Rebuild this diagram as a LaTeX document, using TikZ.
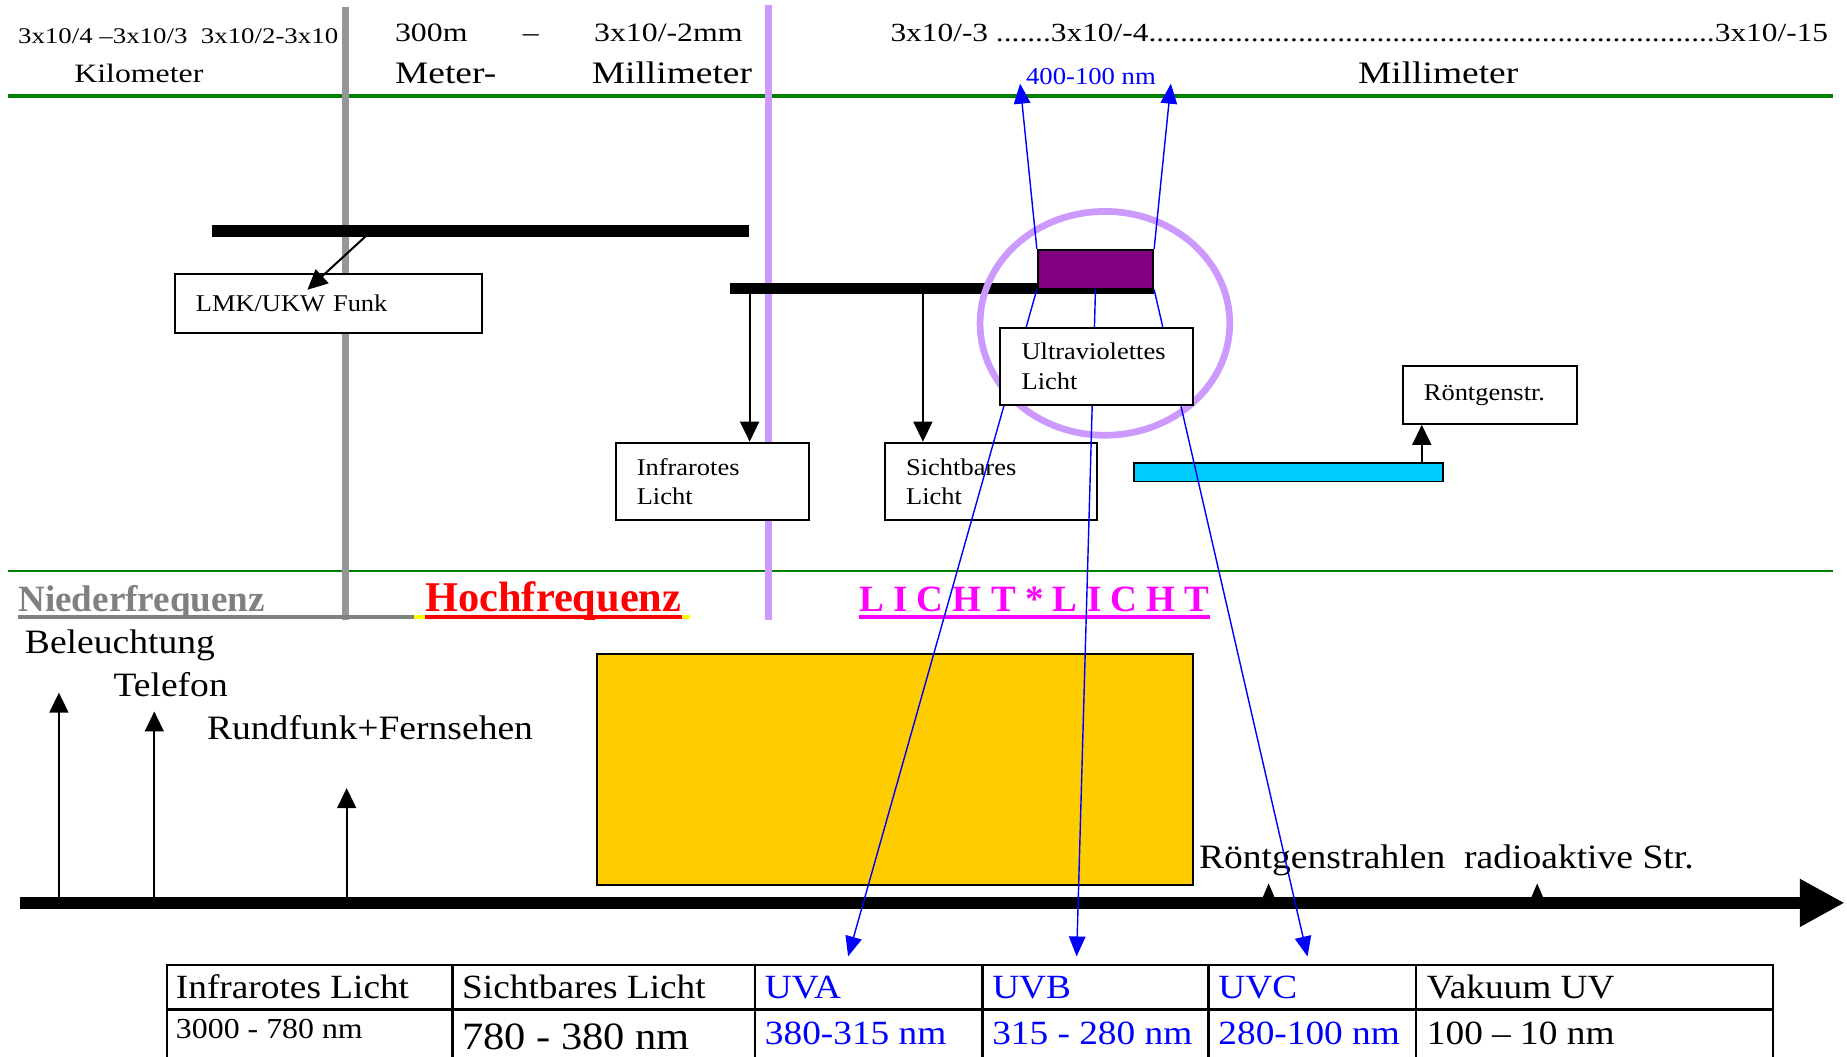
\documentclass[tikz,border=0pt]{standalone}
\usepackage{fontspec}
\setmainfont{Liberation Serif}[FakeStretch=1.1]
\newfontfamily\wideserif{Liberation Serif}[FakeStretch=1.2]
\newfontfamily\plainserif{Liberation Serif}
\usetikzlibrary{arrows.meta, shapes.geometric, positioning}

\definecolor{rulegreen}{RGB}{0,128,0}
\definecolor{rulegray}{RGB}{150,150,150}
\definecolor{textgray}{RGB}{128,128,128}
\definecolor{lilac}{RGB}{204,153,255}
\definecolor{uvpurple}{RGB}{128,0,128}
\definecolor{xcyan}{RGB}{0,204,255}
\definecolor{hfgold}{RGB}{255,204,0}
\definecolor{lichtpink}{RGB}{255,0,255}
\definecolor{uvblue}{RGB}{0,0,255}
\definecolor{hfred}{RGB}{255,0,0}
\definecolor{hlyellow}{RGB}{255,255,0}

\tikzset{
  hdr/.style={anchor=base west, inner sep=0pt, font=\wideserif\fontsize{#1}{#1}\selectfont},
  lbl/.style={anchor=base west, inner sep=0pt, font=\fontsize{#1}{#1}\selectfont},
  bandlbl/.style={anchor=base west, inner sep=0pt, font=\plainserif\bfseries\fontsize{#1}{#1}\selectfont},
  lbox/.style={rectangle, draw=black, fill=white, line width=0.8pt, anchor=north west,
               align=left, inner xsep=9pt, inner ysep=0pt, font=\fontsize{10.2}{12.5}\selectfont},
  strip/.style={rectangle, draw=black, line width=0.8pt, inner sep=0pt},
  ring/.style={ellipse, draw=lilac, line width=2.85pt, minimum width=106pt,
               minimum height=95pt, inner sep=0pt},
  arrow/.style={-{Triangle[length=8.5pt, width=8pt]}, line width=0.85pt},
  bluearrow/.style={-{Triangle[length=8.5pt, width=7pt]}, color=uvblue, line width=0.6pt},
  spike/.style={-{Triangle[length=6pt, width=5pt]}, line width=0.3pt},
  bar/.style={line width=5pt},
  vrule/.style={line width=3pt},
  uline/.style={line width=1.7pt},
  tline/.style={line width=1pt},
}

\begin{document}
\begin{tikzpicture}[x=0.5pt, y=-0.5pt]
  \useasboundingbox (0,0) rectangle (1568,897);

  % Rules and range borders
  \draw[rulegreen, line width=1.4pt] (6.5,81.5) -- (1556,81.5);
  \draw[rulegreen, line width=0.7pt] (6.5,484.5) -- (1556,484.5);
  \draw[vrule, rulegray] (293.7,5.7) -- (293.7,526);
  \draw[vrule, lilac] (652.7,4.2) -- (652.7,526);

  % Wavelength bars
  \draw[bar] (180,196) -- (636,196);
  \draw[bar] (620,245) -- (980,245);

  % Header
  \node[hdr=9.5] (kmrange) at (15,36.8) {3x10/4 –3x10/3\ \ 3x10/2-3x10};
  \node[hdr=11.25] (mrange) at (335,35.4) {\hbox to 147.5pt{300m\hfil–\hfil3x10/-2mm}};
  \node[hdr=11.1] (uvrange) at (755.6,35.4) {\hbox to 398pt{3x10/-3 .......3x10/-4\xleaders\hbox{.}\hfill3x10/-15}};
  \node[hdr=11.25] (km) at (62.8,70) {Kilometer};
  \node[hdr=13.25] (meter) at (335,71) {Meter-};
  \node[hdr=13.25] (mm) at (502,71) {Millimeter};
  \node[lbl=10.3, text=uvblue] (nm) at (870.7,72) {400-100 nm};
  \node[hdr=13.25] (mmright) at (1152.5,71) {Millimeter};

  % Radio
  \node[lbox, text width=112.5pt, minimum height=24.8pt] (lmk) at (147.5,232) {LMK/UKW Funk};
  \coordinate (b1foot) at (310,201);
  \coordinate (lmkhit) at (261,246);
  \draw[arrow] (b1foot) -- (lmkhit);

  % Infrared and visible
  \node[lbox, text width=64pt, minimum height=33pt] (infra) at (521.8,375) {Infrarotes\\Licht};
  \node[lbox, text width=72pt, minimum height=33pt] (sicht) at (750.5,375) {Sichtbares\\Licht};
  \coordinate (irfoot) at (636.4,250);
  \coordinate (vsfoot) at (783.5,250);
  \draw[arrow] (irfoot) -- (irfoot |- infra.north);
  \draw[arrow] (vsfoot) -- (vsfoot |- sicht.north);

  % X-rays
  \node[strip, fill=xcyan, anchor=north west, minimum width=131pt, minimum height=8pt] (xbar) at (962,392) {};
  \node[lbox, text width=56pt, minimum height=24.5pt] (roe) at (1190,310) {Röntgenstr.};
  \coordinate (xfoot) at (1207,392);
  \draw[arrow] (xfoot) -- (xfoot |- roe.south);

  % High frequency block
  \node[strip, fill=hfgold, line width=0.9pt, anchor=north west, minimum width=253pt, minimum height=98pt] (hfbox) at (506,554.6) {};

  % Band names
  \node[bandlbl=15.75, text=textgray] (nieder) at (15.2,519) {Niederfrequenz};
  \node[bandlbl=18, text=hfred] (hoch) at (360.7,519) {Hochfrequenz};
  \node[bandlbl=15.75, text=lichtpink] (licht) at (729,519) {L I C H T * L I C H T};
  \draw[uline, textgray] ([yshift=-2.6pt]nieder.base west) -- ([xshift=-4.5pt, yshift=-2.6pt]hoch.base west);
  \draw[uline, hlyellow] ([xshift=-4.5pt, yshift=-2.6pt]hoch.base west) -- ([yshift=-2.6pt]hoch.base west);
  \draw[uline, hfred] ([yshift=-2.6pt]hoch.base west) -- ([yshift=-2.6pt]hoch.base east);
  \draw[uline, hlyellow] ([yshift=-2.6pt]hoch.base east) -- ([xshift=3.5pt, yshift=-2.6pt]hoch.base east);
  \draw[uline, lichtpink] ([yshift=-2.6pt]licht.base west) -- ([yshift=-2.6pt]licht.base east);

  % Uses
  \node[lbl=14.5] (bel) at (20.8,555) {Beleuchtung};
  \node[lbl=14.5] (tel) at (96,591) {Telefon};
  \node[lbl=14.5] (rf) at (175.4,628) {Rundfunk+Fernsehen};
  \node[lbl=14.5] (rad) at (1017.5,737) {Röntgenstrahlen\ \ radioaktive Str.};

  % Axis
  \coordinate (axL) at (17,766.5);
  \coordinate (axR) at (1566,766.5);
  \coordinate (belup) at (50,588);
  \coordinate (telup) at (131,604);
  \coordinate (rfup) at (294.3,669);
  \coordinate (roetick) at (1077,750);
  \coordinate (radtick) at (1305,750);
  \draw[arrow] (belup |- axL) -- (belup);
  \draw[arrow] (telup |- axL) -- (telup);
  \draw[arrow] (rfup |- axL) -- (rfup);
  \draw[spike] (roetick |- axL) -- (roetick);
  \draw[spike] (radtick |- axL) -- (radtick);
  \draw[line width=4.8pt, -{Triangle[length=19pt, width=19pt]}] (axL) -- (axR);

  % Ultraviolet
  \node[ring] (ring) at (938,274.5) {};
  \node[strip, fill=uvpurple, minimum width=49pt, minimum height=16.5pt] (uvband) at (930,228.5) {};
  \coordinate (nmL) at (866,71);
  \coordinate (nmR) at (994,71);
  \coordinate (uva) at (720,812);
  \coordinate (uvb) at (914,812);
  \coordinate (uvc) at (1110,812);
  \draw[bluearrow] (uvband.north west) -- (nmL);
  \draw[bluearrow] (uvband.north east) -- (nmR);
  \draw[bluearrow] (uvband.south west) -- (uva);
  \draw[bluearrow] (uvband.south) -- (uvb);
  \draw[bluearrow] (uvband.south east) -- (uvc);
  \node[lbox, text width=63.75pt, minimum height=32.75pt] (uvbox) at (848.5,277.5) {Ultraviolettes\\Licht};

  % Table
  \draw[tline] (142,819) rectangle (1505,930);
  \draw[tline] (142,857) -- (1505,857);
  \draw[tline] (384,819) -- (384,930);
  \draw[tline] (641,819) -- (641,930);
  \draw[tline] (834,819) -- (834,930);
  \draw[tline] (1026,819) -- (1026,930);
  \draw[tline] (1202,819) -- (1202,930);

  \node[lbl=14.4] (irname) at (149,847.5) {Infrarotes Licht};
  \node[lbl=14.4] (vsname) at (392,847.5) {Sichtbares Licht};
  \node[lbl=14.4, text=uvblue] (uvaname) at (649,847.5) {UVA};
  \node[lbl=14.4, text=uvblue] (uvbname) at (842,847.5) {UVB};
  \node[lbl=14.4, text=uvblue] (uvcname) at (1034,847.5) {UVC};
  \node[lbl=14.4] (vuvname) at (1211,847.5) {Vakuum UV};

  \node[lbl=12.3] (irnm) at (149,882) {3000 - 780 nm};
  \node[lbl=16.4] (vsnm) at (392,891) {780 - 380 nm};
  \node[lbl=14.4, text=uvblue] (uvanm) at (649,886.5) {380-315 nm};
  \node[lbl=14.4, text=uvblue] (uvbnm) at (842,886.5) {315 - 280 nm};
  \node[lbl=14.4, text=uvblue] (uvcnm) at (1034,886.5) {280-100 nm};
  \node[lbl=14.4] (vuvnm) at (1211,886.5) {100 – 10 nm};
\end{tikzpicture}
\end{document}
